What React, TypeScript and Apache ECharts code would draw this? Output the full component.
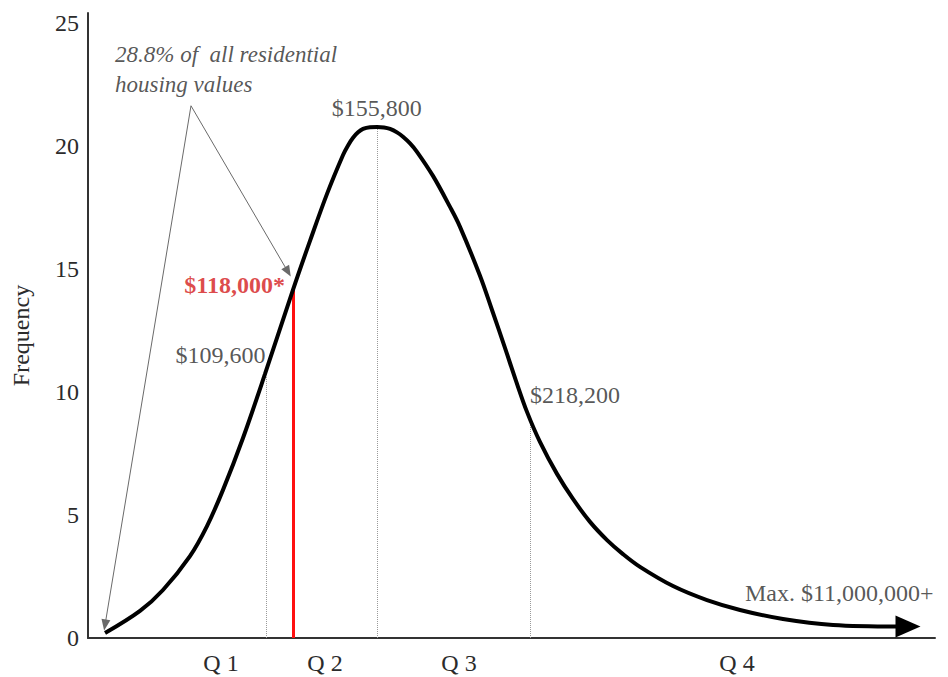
import React, { useEffect, useRef } from "react";
import * as echarts from "echarts";

// Curve of the frequency distribution (x in relative position units 0–100, y = frequency)
const curveX = [2.01, 6.14, 8.85, 12.04, 14.05, 15.94, 18.3, 20.9, 24.2, 26.21, 28.22, 30.11, 30.7, 31.29, 31.88, 32.47, 33.29, 34.12, 34.95, 35.66, 36.48, 37.19, 38.02, 38.84, 40.73, 42.74, 43.92, 46.28, 47.7, 49.23, 50.53, 51.83, 53.36, 55.37, 57.26, 59.27, 61.28, 63.16, 65.17, 69.07, 73.08, 76.98, 82.05, 87.96, 95.51, 96.81];
const curveY = [0.2, 1.1, 1.95, 3.33, 4.55, 6.02, 8.13, 10.73, 14.15, 16.14, 18.05, 19.63, 20.02, 20.33, 20.55, 20.69, 20.76, 20.77, 20.75, 20.69, 20.55, 20.37, 20.1, 19.76, 18.78, 17.52, 16.71, 14.72, 13.33, 11.79, 10.45, 9.19, 7.97, 6.67, 5.65, 4.72, 3.98, 3.41, 2.89, 2.11, 1.54, 1.14, 0.77, 0.53, 0.47, 0.47];

// Quartile boundary markers (dotted lines)
const markerLabels = ["$109,600", "$155,800", "$218,200"];
const markerX = [21.02, 34.1, 52.18];
const markerY = [10.6, 20.77, 8.76];

// Highlighted value (red line)
const highlightLabel = "$118,000*";
const highlightX = 24.2;
const highlightY = 14.15;

// Quartile names on the x axis
const quartileLabels = ["Q 1", "Q 2", "Q 3", "Q 4"];
const quartileX = [15.7, 27.98, 43.8, 76.62];

// Annotation
const noteText = "28.8% of  all residential\nhousing values";
const noteApex = [12.16, 21.63];
const noteTargets = [
  [2.01, 0.53],
  [23.61, 14.88],
];
const maxLabel = "Max. $11,000,000+";

const yTicks = [0, 5, 10, 15, 20, 25];

const FONT = "Liberation Serif";
const TEXT = "#2b2b2b";

export default function App() {
  const ref = useRef<HTMLDivElement>(null);

  useEffect(() => {
    if (!ref.current) return;
    const chart = echarts.init(ref.current, undefined, { renderer: "svg" });

    const curveData: any[] = curveX.map((x, i) => [x, curveY[i]]);
    const last = curveData.length - 1;
    curveData[last] = {
      value: curveData[last],
      symbol: "triangle",
      symbolSize: [22, 25],
      symbolRotate: -90,
      itemStyle: { color: "#000" },
    };

    const labelItems: any[] = [
      {
        name: markerLabels[0],
        value: [markerX[0] - 0.05, 11.5],
        label: { position: "left", distance: 0 },
      },
      {
        name: markerLabels[1],
        value: [markerX[1], 21.54],
        label: { position: "inside" },
      },
      {
        name: markerLabels[2],
        value: [markerX[2], 9.88],
        label: { position: "right", distance: 0 },
      },
      {
        name: highlightLabel,
        value: [23.26, 14.35],
        label: { position: "left", distance: 0, color: "#d41a1a", fontWeight: "bold" },
      },
      {
        name: maxLabel,
        value: [77.57, 1.83],
        label: { position: "right", distance: 0 },
      },
      {
        name: noteText,
        value: [3.19, 23.09],
        label: { position: "right", distance: 0, fontStyle: "italic", fontSize: 23, lineHeight: 30 },
      },
    ];

    chart.setOption({
      animation: false,
      backgroundColor: "#fff",
      textStyle: { fontFamily: FONT },
      grid: { left: 88, right: 13, top: 13, bottom: 39 },
      xAxis: {
        type: "value",
        min: 0,
        max: 100,
        axisLine: { show: true, lineStyle: { color: "#333", width: 2 } },
        axisTick: { show: false },
        splitLine: { show: false },
        axisLabel: {
          customValues: quartileX,
          formatter: (v: number) => {
            const i = quartileX.findIndex((q) => Math.abs(q - v) < 1e-6);
            return i >= 0 ? quartileLabels[i] : "";
          },
          fontSize: 24,
          color: TEXT,
          margin: 13,
          fontFamily: FONT,
        },
      },
      yAxis: {
        type: "value",
        min: 0,
        max: 25.4,
        interval: 5,
        name: "Frequency",
        nameLocation: "middle",
        nameRotate: 90,
        nameGap: 55,
        nameTextStyle: { fontSize: 24, color: TEXT, fontFamily: FONT, padding: [0, 20, 0, 0] },
        axisLine: { show: true, lineStyle: { color: "#333", width: 2 } },
        axisTick: { show: false },
        splitLine: { show: false },
        axisLabel: {
          formatter: (v: number) => (yTicks.indexOf(v) >= 0 ? String(v) : ""),
          fontSize: 24,
          color: TEXT,
          margin: 9,
          fontFamily: FONT,
        },
      },
      series: [
        {
          type: "line",
          name: "markers",
          data: [],
          silent: true,
          markLine: {
            silent: true,
            animation: false,
            symbol: ["none", "none"],
            label: { show: false },
            lineStyle: { type: "dotted", color: "#9a9a9a", width: 1 },
            data: markerX.map((x, i) => [{ coord: [x, 0] }, { coord: [x, markerY[i]] }]),
          },
        },
        {
          type: "line",
          name: "highlight",
          data: [],
          silent: true,
          markLine: {
            silent: true,
            animation: false,
            symbol: ["none", "none"],
            label: { show: false },
            lineStyle: { type: "solid", color: "#ff1010", width: 3 },
            data: [[{ coord: [highlightX, 0] }, { coord: [highlightX, highlightY] }]],
          },
        },
        {
          type: "line",
          name: "note",
          data: [],
          silent: true,
          markLine: {
            silent: true,
            animation: false,
            symbol: ["none", "triangle"],
            symbolSize: [9, 11],
            label: { show: false },
            lineStyle: { type: "solid", color: "#6a6a6a", width: 1 },
            data: noteTargets.map((t) => [{ coord: noteApex }, { coord: t }]),
          },
        },
        {
          type: "line",
          name: "curve",
          data: curveData,
          smooth: 0.35,
          symbol: "none",
          showSymbol: true,
          silent: true,
          clip: false,
          lineStyle: { color: "#000", width: 4 },
          itemStyle: { color: "#000" },
          z: 5,
        },
        {
          type: "scatter",
          name: "labels",
          data: labelItems,
          symbolSize: 0,
          silent: true,
          clip: false,
          itemStyle: { color: "transparent" },
          label: {
            show: true,
            formatter: "{b}",
            fontSize: 24,
            color: TEXT,
            fontFamily: FONT,
          },
          z: 6,
        },
      ],
    });

    return () => chart.dispose();
  }, []);

  return (
    <div
      ref={ref}
      style={{ position: "fixed", left: 0, top: 0, width: 948, height: 677, background: "#fff" }}
    />
  );
}
